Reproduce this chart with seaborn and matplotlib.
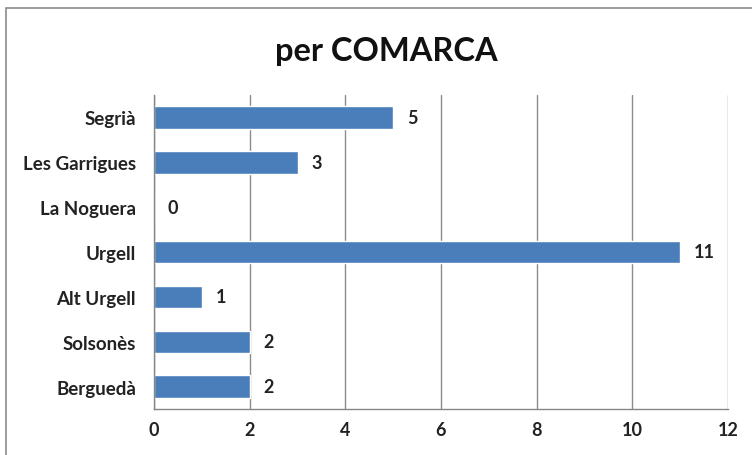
import matplotlib
matplotlib.use('Agg')
import matplotlib.pyplot as plt
import seaborn as sns
import pandas as pd
import numpy as np
from matplotlib.patches import Rectangle

comarques = ['Segrià', 'Les Garrigues', 'La Noguera', 'Urgell', 'Alt Urgell', 'Solsonès', 'Berguedà']
valors = [5, 3, 0, 11, 1, 2, 2]
xticks = [0, 2, 4, 6, 8, 10, 12]

sns.set_style('white')
plt.rcParams['font.family'] = ['Lato', 'DejaVu Sans']

df = pd.DataFrame({'comarca': comarques, 'valor': valors})

fig = plt.figure(figsize=(7.52, 4.56), dpi=100)
ax = fig.add_axes([154/752, 46/456, 574/752, 314/456])

sns.barplot(data=df, x='valor', y='comarca', color='#4A7EBB', width=0.5,
            saturation=1, ax=ax, orient='h')

ax.set_xlim(0, 12)
ax.set_ylim(len(comarques) - 0.5, -0.5)
ax.set_xticks(xticks)
ax.set_xticklabels([str(t) for t in xticks], fontsize=13, fontweight='bold', color='#222222')
ax.set_yticks(range(len(comarques)))
ax.set_yticklabels(comarques, fontsize=13.5, fontweight='bold', color='#222222')
ax.set_yticks(np.arange(-0.5, len(comarques)), minor=True)
ax.tick_params(axis='y', which='major', length=0, pad=13)
ax.tick_params(axis='y', which='minor', length=6, width=1, color='#868686', direction='out')
ax.tick_params(axis='x', which='major', length=6, width=1, color='#868686', direction='inout', pad=6)
ax.set_xlabel('')
ax.set_ylabel('')

ax.grid(axis='x', color='#8c8c8c', linewidth=1)
ax.set_axisbelow(True)
for s in ['top', 'right']:
    ax.spines[s].set_visible(False)
for s in ['left', 'bottom']:
    ax.spines[s].set_color('#868686')
    ax.spines[s].set_linewidth(1)

for c in ax.containers:
    ax.bar_label(c, labels=[str(v) for v in valors], padding=10, fontsize=13,
                 fontweight='bold', color='#222222')

fig.text(386/752, 1 - 52/456, 'per COMARCA', ha='center', va='center',
         fontsize=23.5, fontweight='bold', color='#111111')

fig.patches.append(Rectangle((6/752, -0.1), 1.2, 1 - 9/456 + 0.1, transform=fig.transFigure,
                             fill=False, edgecolor='#8a8a8a', linewidth=1.2))

fig.savefig('out.png', dpi=100)
